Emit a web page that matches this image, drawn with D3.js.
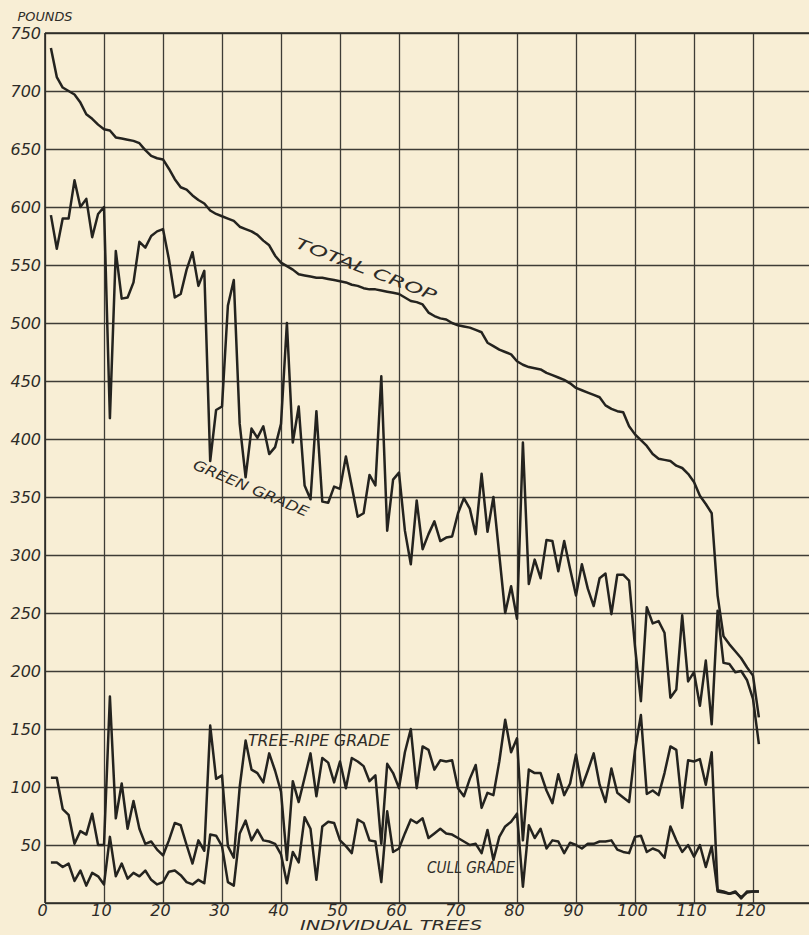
<!DOCTYPE html>
<html>
<head>
<meta charset="utf-8">
<script src="https://cdn.jsdelivr.net/npm/d3@7/dist/d3.min.js"></script>
<style>
  body { margin: 0; background: #f8eed5; }
  svg text { font-family: "DejaVu Sans", "Liberation Sans", sans-serif; font-style: italic; fill: #2e2c28; }
</style>
</head>
<body>
<svg width="809" height="935"></svg>
<script>
// tree numbers 1..121 (sorted by total crop)
const trees = d3.range(1, 122);

const totalCrop = [737,712,703,700,697,690,680,676,671,667,
  666,660,659,658,657,655,649,644,642,641,
  633,624,617,615,610,606,603,597,594,592,
  590,588,583,581,579,576,571,567,558,552,
  549,546,542,541,540,539,539,538,537,536,
  535,533,532,530,529,529,528,527,526,525,
  522,519,518,516,509,506,504,503,500,498,
  497,496,494,492,483,480,477,475,473,467,
  464,462,461,460,457,455,453,451,448,444,
  442,440,438,436,429,426,424,423,411,404,
  399,394,387,383,382,381,377,375,370,363,
  351,344,336,265,230,223,217,211,203,196,
  160];

const greenGrade = [593,564,590,590,623,600,607,574,594,600,
  418,562,521,522,535,570,565,575,579,581,
  555,522,525,546,561,532,545,381,425,428,
  515,537,413,367,409,401,411,387,393,413,
  500,397,428,360,348,424,346,345,359,357,
  385,359,333,336,369,360,454,321,365,371,
  321,292,347,305,318,329,312,315,316,336,
  349,340,318,370,320,350,300,250,273,245,
  397,275,296,280,313,312,286,312,288,265,
  292,271,256,280,284,249,283,283,278,221,
  174,255,241,243,233,177,184,248,191,199,
  170,209,154,252,207,206,199,200,192,176,
  137];

const treeRipeGrade = [108,108,81,76,51,62,59,77,50,50,
  178,73,103,64,88,64,51,53,46,41,
  54,69,67,50,34,54,45,153,107,110,
  49,39,100,140,115,112,104,129,114,96,
  37,105,87,108,129,92,125,121,104,122,
  99,125,122,118,105,110,51,120,112,99,
  130,150,99,135,132,115,123,122,123,99,
  92,107,119,82,95,93,122,158,130,142,
  54,115,112,112,97,86,111,93,103,128,
  100,114,129,102,87,116,95,91,87,132,
  162,94,97,93,112,135,132,82,123,122,
  124,102,130,11,10,8,9,5,9,10,
  10];

const cullGrade = [35,35,31,34,19,28,15,26,23,16,
  57,23,34,21,26,23,28,20,16,18,
  27,28,24,18,16,20,17,59,58,49,
  18,15,60,71,54,63,54,53,51,42,
  17,44,35,74,64,20,66,70,69,54,
  49,43,72,69,54,53,18,79,44,47,
  60,72,69,73,56,60,64,60,59,56,
  53,50,51,43,63,37,57,66,70,77,
  14,67,56,64,47,54,53,43,52,50,
  47,51,51,53,53,54,46,44,43,57,
  58,44,47,45,39,66,54,44,50,40,
  50,31,49,10,9,8,10,4,10,10,
  10];

const xTicks = [0,10,20,30,40,50,60,70,80,90,100,110,120,130];
const yTicks = [0,50,100,150,200,250,300,350,400,450,500,550,600,650,700,750];

const svg = d3.select("svg");
const width = +svg.attr("width");
const height = +svg.attr("height");

// scales
const x = d3.scaleLinear().domain([0, 130]).range([45, 812]);
const y = d3.scaleLinear().domain([0, 750]).range([903, 33]);

const ink = "#2b2a26";

// grid via axes
const yAxis = svg.append("g")
    .attr("transform", `translate(${x(0)},0)`)
    .call(d3.axisLeft(y)
        .tickValues(yTicks)
        .tickSize(-(width - x(0)))
        .tickPadding(4)
        .tickFormat(d => d === 0 ? "" : d));
yAxis.select(".domain").remove();
yAxis.selectAll("line").attr("stroke", "#3e3c36").attr("stroke-width", 1.3);
yAxis.selectAll("text").attr("font-size", 16).attr("fill", ink);

const xAxis = svg.append("g")
    .attr("transform", `translate(0,${y(0)})`)
    .call(d3.axisBottom(x)
        .tickValues(xTicks)
        .tickSize(-(y(0) - y(750)))
        .tickPadding(2)
        .tickFormat(d => d > 120 ? "" : d));
xAxis.select(".domain").remove();
xAxis.selectAll("line").attr("stroke", "#3e3c36").attr("stroke-width", 1.3);
xAxis.selectAll("text").attr("font-size", 16).attr("fill", ink).attr("dx", -3);
svg.selectAll("g").attr("font-family", null);

// heavier frame lines at x=0, y=0 and top
svg.append("line").attr("x1", x(0)).attr("x2", x(0)).attr("y1", y(750)).attr("y2", y(0))
    .attr("stroke", ink).attr("stroke-width", 1.6);
svg.append("line").attr("x1", x(0)).attr("x2", width).attr("y1", y(0)).attr("y2", y(0))
    .attr("stroke", ink).attr("stroke-width", 1.6);
svg.append("line").attr("x1", x(0)).attr("x2", width).attr("y1", y(750)).attr("y2", y(750))
    .attr("stroke", ink).attr("stroke-width", 1.6);

// series lines
const line = d3.line()
    .x((d, i) => x(trees[i]))
    .y(d => y(d));

[totalCrop, greenGrade, treeRipeGrade, cullGrade].forEach(series => {
    svg.append("path")
        .datum(series)
        .attr("d", line)
        .attr("fill", "none")
        .attr("stroke", "#24231f")
        .attr("stroke-width", 2.5)
        .attr("stroke-linejoin", "round");
});

// labels
function label(txt, cx, cy, size, len, angle) {
    svg.append("text")
        .attr("transform", `translate(${cx},${cy}) rotate(${angle || 0})`)
        .attr("text-anchor", "middle")
        .attr("dy", "0.36em")
        .attr("font-size", size)
        .attr("textLength", len)
        .attr("lengthAdjust", "spacingAndGlyphs")
        .text(txt);
}

label("POUNDS", 45, 17, 12, 55);
label("TOTAL CROP", 366, 269, 15, 150, 21);
label("GREEN GRADE", 251, 488, 14, 124, 23);
label("TREE-RIPE GRADE", 319, 741, 15, 142);
label("CULL GRADE", 471, 868, 15, 88);
label("INDIVIDUAL TREES", 391, 925, 14, 182);
</script>
</body>
</html>
